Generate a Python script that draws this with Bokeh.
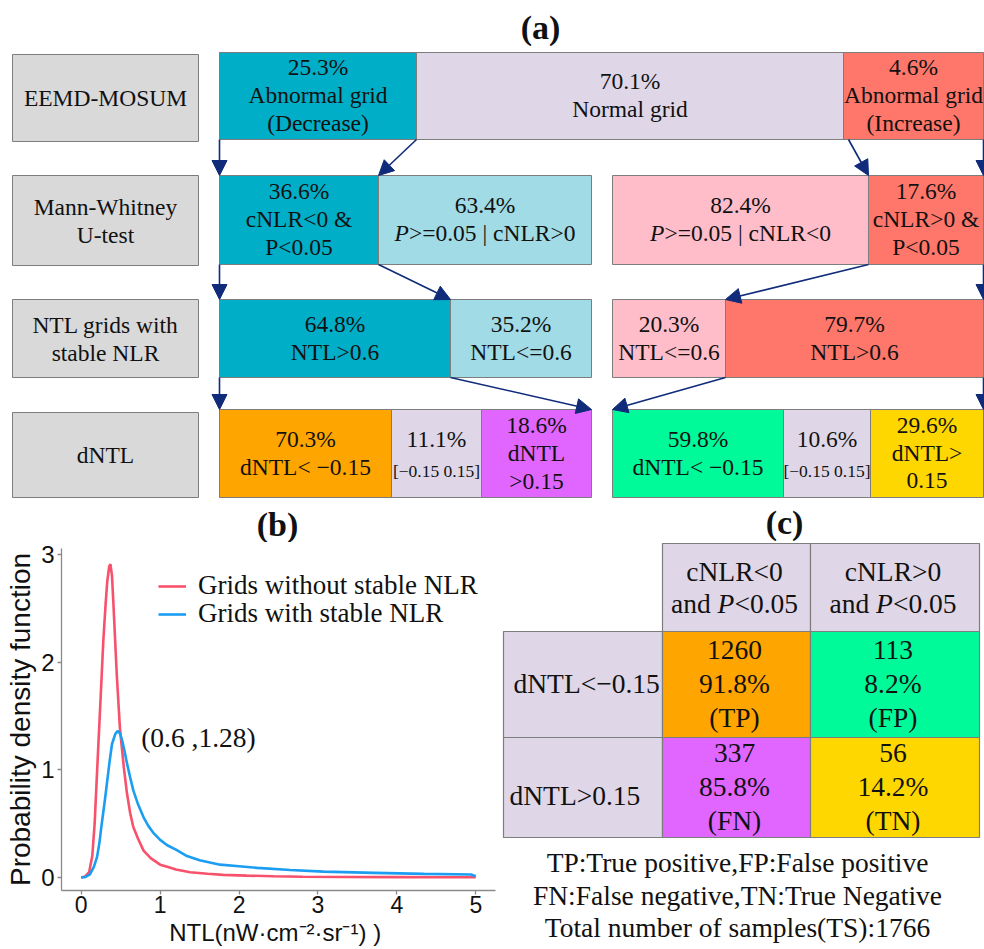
from bokeh.plotting import figure
from bokeh.models import (ColumnDataSource, Arrow, NormalHead, Label, Legend, LegendItem,
                          FixedTicker, Range1d)
from bokeh.layouts import column, row
from bokeh.embed import file_html
from bokeh.resources import INLINE
from bokeh.core.properties import value

# ------------------------------------------------------------------ data
stage_names = [["EEMD-MOSUM"], ["Mann-Whitney", "U-test"],
               ["NTL grids with", "stable NLR"], ["dNTL"]]

row1_pct = [25.3, 70.1, 4.6]
row1_txt = [["Abnormal grid", "(Decrease)"], ["Normal grid"], ["Abnormal grid", "(Increase)"]]

row2_left_pct = [36.6, 63.4]
row2_left_txt = [["cNLR<0 &", "P<0.05"], [[("P", "italic"), (">=0.05 | cNLR>0", "normal")]]]
row2_right_pct = [82.4, 17.6]
row2_right_txt = [[[("P", "italic"), (">=0.05 | cNLR<0", "normal")]], ["cNLR>0 &", "P<0.05"]]

row3_left_pct = [64.8, 35.2]
row3_left_txt = [["NTL>0.6"], ["NTL<=0.6"]]
row3_right_pct = [20.3, 79.7]
row3_right_txt = [["NTL<=0.6"], ["NTL>0.6"]]

row4_left_pct = [70.3, 11.1, 18.6]
row4_left_txt = [["dNTL< \u22120.15"], ["[\u22120.15 0.15]"], ["dNTL", ">0.15"]]
row4_right_pct = [59.8, 10.6, 29.6]
row4_right_txt = [["dNTL< \u22120.15"], ["[\u22120.15 0.15]"], ["dNTL>", "0.15"]]

panel_titles = ["(a)", "(b)", "(c)"]

# panel (b): kernel density curves
red_x = [0.0, 0.05, 0.10, 0.14, 0.17, 0.20, 0.24, 0.28, 0.31, 0.33, 0.355, 0.37, 0.39, 0.41,
         0.45, 0.49, 0.54, 0.58, 0.62, 0.66, 0.72, 0.79, 0.88, 1.0, 1.09, 1.2, 1.38, 1.6, 1.8,
         2.1, 2.44, 2.8, 3.3, 4.0, 4.5, 5.0]
red_y = [0.0, 0.01, 0.05, 0.20, 0.50, 0.97, 1.58, 2.20, 2.55, 2.75, 2.89, 2.91, 2.80, 2.51,
         1.89, 1.39, 1.02, 0.78, 0.60, 0.47, 0.36, 0.25, 0.18, 0.12, 0.10, 0.075, 0.05, 0.035,
         0.025, 0.018, 0.012, 0.008, 0.005, 0.004, 0.003, 0.003]
blue_x = [0.0, 0.05, 0.11, 0.16, 0.20, 0.23, 0.26, 0.30, 0.33, 0.36, 0.39, 0.43, 0.46, 0.49,
          0.52, 0.55, 0.58, 0.62, 0.66, 0.72, 0.79, 0.85, 0.92, 1.0, 1.09, 1.2, 1.34, 1.5, 1.76,
          2.0, 2.23, 2.65, 3.07, 3.71, 4.34, 4.94, 5.0]
blue_y = [0.0, 0.005, 0.03, 0.10, 0.19, 0.32, 0.50, 0.72, 0.90, 1.08, 1.24, 1.33, 1.36, 1.34,
          1.27, 1.17, 1.06, 0.93, 0.81, 0.68, 0.56, 0.48, 0.41, 0.35, 0.30, 0.26, 0.20, 0.16,
          0.12, 0.105, 0.09, 0.07, 0.055, 0.044, 0.034, 0.028, 0.012]
series_names = ["Grids without stable NLR", "Grids with stable NLR"]
x_ticks = [0, 1, 2, 3, 4, 5]
y_ticks = [0, 1, 2, 3]
peak_note = (0.6, 1.28)

# panel (c): confusion table
col_heads = [["cNLR<0", [("and ", "normal"), ("P", "italic"), ("<0.05", "normal")]],
             ["cNLR>0", [("and ", "normal"), ("P", "italic"), ("<0.05", "normal")]]]
row_heads = ["dNTL<\u22120.15", "dNTL>0.15"]
counts = [[1260, 113], [337, 56]]
cell_pct = [[91.8, 8.2], [85.8, 14.2]]
cell_code = [["TP", "FP"], ["FN", "TN"]]
notes = ["TP:True positive,FP:False positive",
         "FN:False negative,TN:True Negative",
         "Total number of samples(TS):1766"]

# ------------------------------------------------------------------ style
SERIF = "Liberation Serif"
SANS = "Liberation Sans"
INK = "#111111"
NAVY = "#0f2b7a"
EDGE = "#7d7d7d"
TEAL, LBLUE, LAV = "#00AEC8", "#A0DBE6", "#DFD7E7"
SALMON, PINK = "#FF766A", "#FFBDCA"
ORANGE, VIOLET, GREEN, GOLD, GREY = "#FFA500", "#E066FF", "#00FA9A", "#FFD700", "#D9D9D9"
SPLIT = 542  # pixel row where the lower panels start


def fs(px):
    return f"{px:.1f}px"


TIMES = {' ': .25, '%': .833, '(': .333, ')': .333, ',': .25, '-': .333, '.': .25, ':': .278,
         '<': .564, '=': .564, '>': .564, '&': .778, '|': .2, '[': .333, ']': .333, '\u2212': .564,
         'A': .722, 'C': .667, 'D': .722, 'E': .611, 'F': .556, 'L': .611, 'M': .889, 'N': .722,
         'O': .722, 'P': .556, 'R': .667, 'S': .556, 'T': .611, 'U': .722, 'W': .944,
         'a': .444, 'b': .5, 'c': .444, 'd': .5, 'e': .444, 'g': .5, 'h': .5, 'i': .278, 'l': .278,
         'm': .778, 'n': .5, 'o': .5, 'p': .5, 'r': .333, 's': .389, 't': .278, 'u': .5, 'v': .5,
         'w': .722, 'y': .5}


def tw(s, style):
    if style == "italic" and s == "P":
        return 0.611
    return sum(TIMES.get(c, 0.5) for c in s)


def new_src():
    return dict(x=[], y=[], text=[], size=[], style=[])


def put(src, x, y, t, size, style="normal"):
    src['x'].append(x); src['y'].append(y); src['text'].append(t)
    src['size'].append(fs(size)); src['style'].append(style)


def add_line(csrc, lsrc, cx, cy, line, size):
    if isinstance(line, str):
        put(csrc, cx, cy, line, size)
    else:
        total = sum(tw(t, st) for t, st in line) * size
        x = cx - total / 2.0
        for t, st in line:
            put(lsrc, x, cy, t, size, st)
            x += tw(t, st) * size


def add_block(csrc, lsrc, cx, cy, lines, size, gap):
    n = len(lines)
    for i, ln in enumerate(lines):
        add_line(csrc, lsrc, cx, cy + (i - (n - 1) / 2.0) * gap, ln, size)


def bare(fig):
    fig.outline_line_color = None
    fig.grid.visible = False
    fig.background_fill_color = "white"
    fig.border_fill_color = "white"


def draw_text(fig, src, align):
    fig.text(x='x', y='y', text='text', source=ColumnDataSource(src), text_font=value(SERIF),
             text_font_size='size', text_font_style='style', text_align=align,
             text_baseline="middle", text_color=INK)


# ------------------------------------------------------------------ panel (a) (+ titles of b, c)
pa = figure(width=984, height=SPLIT, x_range=Range1d(0, 984), y_range=Range1d(SPLIT, 0),
            output_backend="svg", toolbar_location=None, x_axis_type=None, y_axis_type=None,
            min_border=0, title=None)
bare(pa)

ROW_Y = [(52, 139), (175, 264), (299, 377), (409, 497)]
LAB_Y = [(54, 141), (175, 265), (299, 377), (412, 497)]
LAB_X = (12, 198)
edges = {
    1: [[219, 416, 843, 983]],
    2: [[219, 378, 591], [612, 868, 983]],
    3: [[219, 450, 591], [612, 725, 983]],
    4: [[219, 391, 481, 591], [612, 783, 870, 983]],
}
groups = {
    1: [(row1_pct, row1_txt, [TEAL, LAV, SALMON])],
    2: [(row2_left_pct, row2_left_txt, [TEAL, LBLUE]), (row2_right_pct, row2_right_txt, [PINK, SALMON])],
    3: [(row3_left_pct, row3_left_txt, [TEAL, LBLUE]), (row3_right_pct, row3_right_txt, [PINK, SALMON])],
    4: [(row4_left_pct, row4_left_txt, [ORANGE, LAV, VIOLET]), (row4_right_pct, row4_right_txt, [GREEN, LAV, GOLD])],
}

q = dict(l=[], r=[], t=[], b=[], c=[])
ca, la = new_src(), new_src()
for i, names in enumerate(stage_names):
    y0, y1 = LAB_Y[i]
    q['l'].append(LAB_X[0]); q['r'].append(LAB_X[1]); q['t'].append(y0); q['b'].append(y1); q['c'].append(GREY)
    add_block(ca, la, (LAB_X[0] + LAB_X[1]) / 2.0, (y0 + y1) / 2.0, names, 23.5, 28)

for r in range(1, 5):
    y0, y1 = ROW_Y[r - 1]
    for (pcts, txts, cols), ed in zip(groups[r], edges[r]):
        for k, (pv, tx, colr) in enumerate(zip(pcts, txts, cols)):
            q['l'].append(ed[k]); q['r'].append(ed[k + 1]); q['t'].append(y0); q['b'].append(y1)
            q['c'].append(colr)
            cx = (ed[k] + ed[k + 1]) / 2.0
            cy = (y0 + y1) / 2.0 - 1
            lines = [f"{pv:.1f}%"] + list(tx)
            if isinstance(tx[0], str) and tx[0].startswith("["):
                put(ca, cx, cy - 14, lines[0], 23.5)
                put(ca, cx, cy + 18, tx[0], 17.5)
            else:
                add_block(ca, la, cx, cy, lines, 23.5, 28)

pa.quad(left='l', right='r', top='t', bottom='b', fill_color='c', line_color=EDGE, line_width=1,
        source=ColumnDataSource(q))
draw_text(pa, ca, "center")
draw_text(pa, la, "left")
pa.text(x=[540, 277, 784], y=[27, 524, 522], text=panel_titles, text_font=value(SERIF),
        text_font_size=fs(34), text_font_style="bold", text_align="center",
        text_baseline="middle", text_color=INK)

# arrows between stages (from box edges)
e1, e2L, e2R = edges[1][0], edges[2][0], edges[2][1]
e3L, e3R, e4L, e4R = edges[3][0], edges[3][1], edges[4][0], edges[4][1]
pairs = [
    ((e1[0], 1), (e2L[0], 2)), ((e1[1], 1), (e2L[1], 2)),
    ((e1[2] + 5, 1), (e2R[1], 2)), ((e1[3], 1), (e2R[2], 2)),
    ((e2L[0], 2), (e3L[0], 3)), ((e2L[1], 2), (e3L[1], 3)),
    ((e2R[1], 2), (e3R[1], 3)), ((e2R[2], 2), (e3R[2], 3)),
    ((e3L[0], 3), (e4L[0], 4)), ((e3L[1], 3), (e4L[3], 4)),
    ((e3R[1], 3), (e4R[0], 4)), ((e3R[2], 3), (e4R[3], 4)),
]
asrc = ColumnDataSource(dict(
    x0=[p[0][0] for p in pairs], y0=[ROW_Y[p[0][1] - 1][1] for p in pairs],
    x1=[p[1][0] for p in pairs], y1=[ROW_Y[p[1][1] - 1][0] for p in pairs]))
pa.add_layout(Arrow(end=NormalHead(size=15, fill_color=NAVY, line_color=NAVY, line_width=1),
                    x_start='x0', y_start='y0', x_end='x1', y_end='y1', source=asrc,
                    line_color=NAVY, line_width=1.6))

# ------------------------------------------------------------------ panel (b)
H2 = 949 - SPLIT
pb = figure(width=500, height=H2, x_range=Range1d(-0.25, 5.25), y_range=Range1d(-0.12, 3.055),
            output_backend="svg", toolbar_location=None, title=None,
            min_border_left=61, min_border_right=5, min_border_top=548 - SPLIT,
            min_border_bottom=59)
bare(pb)
r_red = pb.line(red_x, red_y, line_color="#F7516B", line_width=2.6)
r_blue = pb.line(blue_x, blue_y, line_color="#1B9DF2", line_width=2.6)
for ax, tk in ((pb.xaxis[0], x_ticks), (pb.yaxis[0], y_ticks)):
    ax.ticker = FixedTicker(ticks=tk)
    ax.axis_line_color = "#8a8a8a"
    ax.axis_line_width = 1.3
    ax.major_tick_line_color = "#8a8a8a"
    ax.major_tick_line_width = 1.3
    ax.major_tick_out = 4
    ax.major_tick_in = 0
    ax.minor_tick_line_color = None
    ax.major_label_text_font = SANS
    ax.major_label_text_color = INK
    ax.axis_label_text_font = SANS
    ax.axis_label_text_font_style = "normal"
    ax.axis_label_text_color = INK
pb.xaxis.major_label_text_font_size = fs(23)
pb.yaxis.major_label_text_font_size = fs(24)
pb.xaxis.major_label_standoff = 1
pb.yaxis.major_label_standoff = 3
pb.xaxis.axis_label = "NTL(nW\u00b7cm\u207b\u00b2\u00b7sr\u207b\u00b9)  )"
pb.xaxis.axis_label_text_font_size = fs(24)
pb.xaxis.axis_label_standoff = 3
pb.yaxis.axis_label = "Probability density function"
pb.yaxis.axis_label_text_font_size = fs(28)
pb.yaxis.axis_label_standoff = 2

for k, (rend, ylc) in enumerate(((r_red, 289), (r_blue, 261))):
    leg = Legend(items=[LegendItem(label=series_names[k], renderers=[rend])],
                 location=(97, ylc), label_text_font=SERIF, label_text_font_size=fs(27),
                 label_text_color=INK, glyph_width=28, label_standoff=12, padding=0, margin=0,
                 border_line_color=None, background_fill_alpha=0)
    pb.add_layout(leg)

pb.add_layout(Label(x=peak_note[0] + 0.16, y=peak_note[1] + 0.02,
                    text=f"({peak_note[0]} ,{peak_note[1]})", text_font=SERIF,
                    text_font_size=fs(27.5), text_baseline="middle", text_align="left",
                    text_color=INK))

# ------------------------------------------------------------------ panel (c)
pc = figure(width=484, height=H2, x_range=Range1d(500, 984), y_range=Range1d(949, SPLIT),
            output_backend="svg", toolbar_location=None, x_axis_type=None, y_axis_type=None,
            min_border=0, title=None)
bare(pc)
CX = [503, 662, 810, 979]
RY = [543, 631, 737, 837]
cell_fill = [[ORANGE, GREEN], [VIOLET, GOLD]]
tq = dict(l=[], r=[], t=[], b=[], c=[])
cc, lc = new_src(), new_src()
lab_left = new_src()
for j in range(2):  # header cells
    tq['l'].append(CX[j + 1]); tq['r'].append(CX[j + 2]); tq['t'].append(RY[0]); tq['b'].append(RY[1])
    tq['c'].append(LAV)
    add_block(cc, lc, (CX[j + 1] + CX[j + 2]) / 2.0 - 2, (RY[0] + RY[1]) / 2.0, col_heads[j], 27.5, 32)
row_lab_pos = [(513, 683), (509, 795)]
for i in range(2):
    tq['l'].append(CX[0]); tq['r'].append(CX[1]); tq['t'].append(RY[i + 1]); tq['b'].append(RY[i + 2])
    tq['c'].append(LAV)
    put(lab_left, row_lab_pos[i][0], row_lab_pos[i][1], row_heads[i], 27.5)
    for j in range(2):
        tq['l'].append(CX[j + 1]); tq['r'].append(CX[j + 2]); tq['t'].append(RY[i + 1])
        tq['b'].append(RY[i + 2]); tq['c'].append(cell_fill[i][j])
        add_block(cc, lc, (CX[j + 1] + CX[j + 2]) / 2.0 - 2, (RY[i + 1] + RY[i + 2]) / 2.0 - 1,
                  [str(counts[i][j]), f"{cell_pct[i][j]:.1f}%", f"({cell_code[i][j]})"], 27.5, 34)
for k, nt in enumerate(notes):
    put(cc, 737, 862 + 32.5 * k, nt, 27.5)

pc.quad(left='l', right='r', top='t', bottom='b', fill_color='c', line_color=EDGE, line_width=1.2,
        source=ColumnDataSource(tq))
draw_text(pc, cc, "center")
draw_text(pc, lc, "left")
draw_text(pc, lab_left, "left")

layout = column(pa, row(column(pb), column(pc)))
open("out.html", "w").write(file_html(layout, INLINE))
